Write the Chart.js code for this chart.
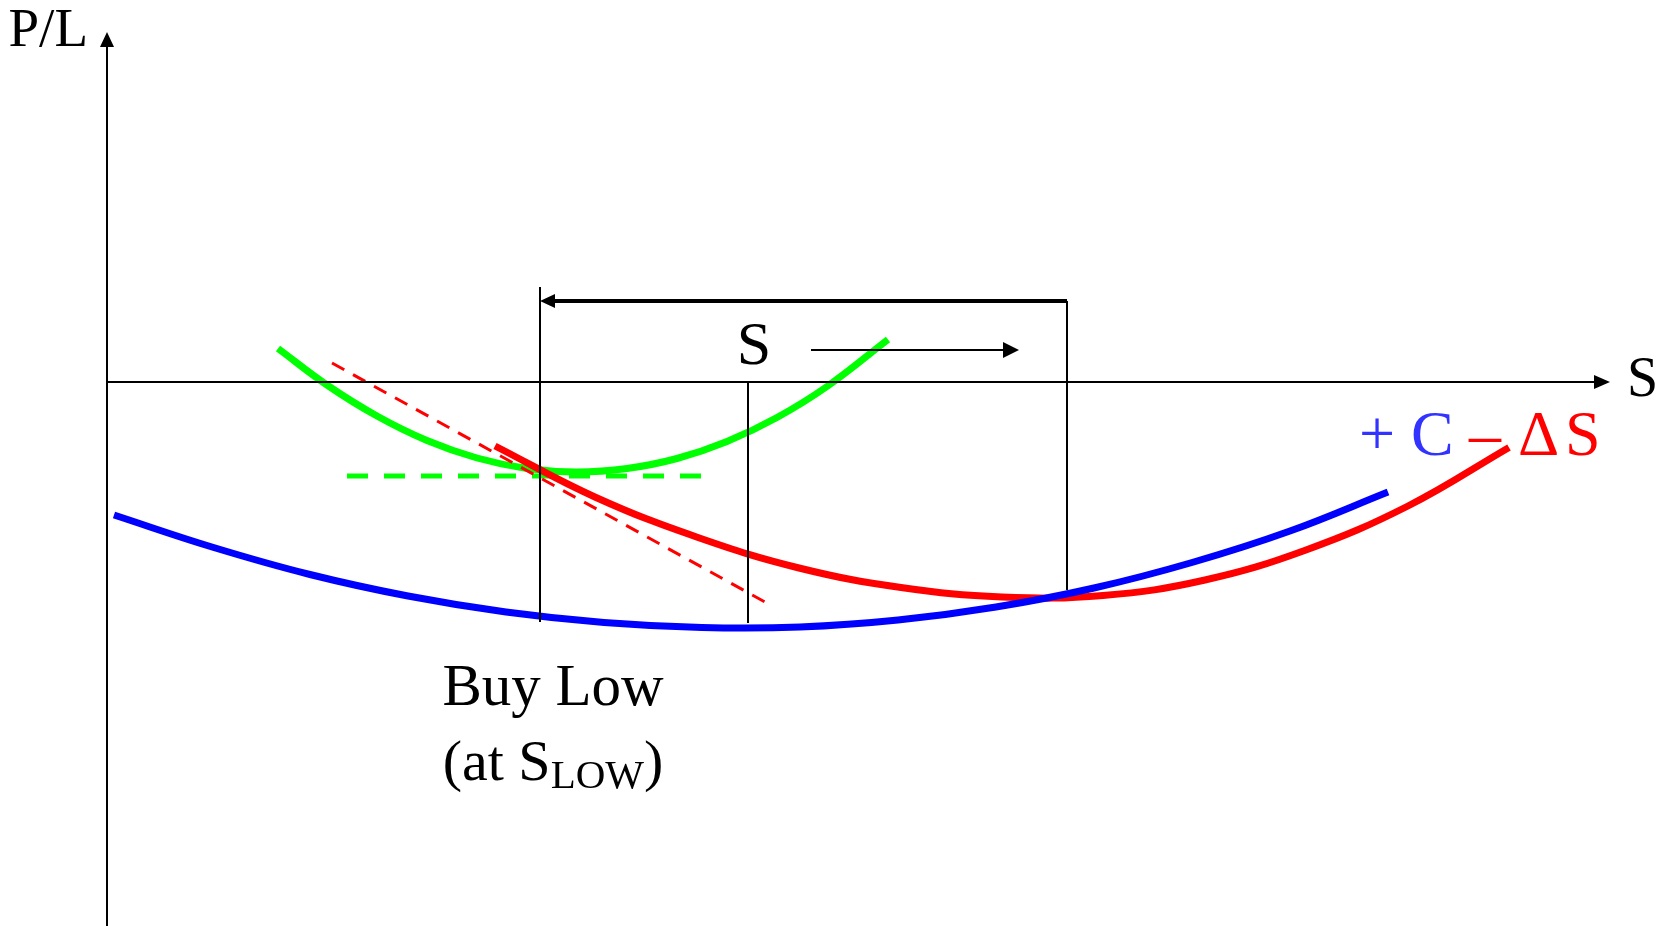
<!DOCTYPE html>
<html>
<head>
<meta charset="utf-8">
<title>Buy Low</title>
<script src="https://cdn.jsdelivr.net/npm/chart.js@4.4.1/dist/chart.umd.min.js"></script>
<style>
  html, body { margin: 0; padding: 0; background: #fff; }
  #wrap { width: 1668px; height: 926px; }
</style>
</head>
<body>
<div id="wrap"><canvas id="plChart" width="1668" height="926"></canvas></div>
<script>
// S on the horizontal axis, P/L on the vertical one (same units as the scales below)
const sRange = [-10.7, 156.1];
const plRange = [-54.4, 38.2];

// option value (blue)
const callS  = [0.7, 10.5, 20.3, 30.1, 39.9, 49.7, 59.5, 69.3, 79.1, 88.9, 98.7, 108.5, 118.3, 128.1];
const callPL = [-13.3, -16.5, -19.25, -21.4, -23.0, -24.05, -24.55, -24.5, -23.8, -22.5, -20.6, -18.05, -14.9, -11.0];

// option minus delta hedge (red)
const hedgeS  = [38.8, 48.9, 59.1, 69.2, 79.4, 89.5, 99.6, 109.8, 119.9, 130.1, 140.2];
const hedgePL = [-6.4, -11.55, -15.55, -18.6, -20.55, -21.5, -21.35, -19.8, -16.8, -12.4, -6.55];

// re-hedged position after buying at S low (green)
const rehedgeS  = [17.1, 22, 27, 32, 37, 42, 47, 52, 57, 62, 67, 72, 78.1];
const rehedgePL = [3.35, -0.3, -3.4, -5.85, -7.6, -8.65, -9.0, -8.65, -7.65, -5.95, -3.55, -0.45, 4.25];

// delta tangent (red dashed) and flat tangent (green dashed)
const tangentS  = [22.5, 65.8];
const tangentPL = [1.9, -22.0];
const flatS  = [24.0, 59.8];
const flatPL = [-9.4, -9.4];

// marker lines
const sLow = 43.3, sMid = 64.1, sHigh = 96.0;
const markerBottom = [-24.0, -24.1, -20.8];
const bracketPL = 8.1;
const moveArrowS = [70.4, 91.2];
const moveArrowPL = 3.2;
const axisTipS = 150.3;
const axisTipPL = 35.0;

const pts = (xs, ys) => xs.map((x, i) => ({ x: x, y: ys[i] }));

function seg(data, color, width, dash) {
    return {
        data: data,
        showLine: true,
        borderColor: color,
        borderWidth: width,
        borderDash: dash || [],
        pointRadius: 0,
        fill: false,
        tension: 0
    };
}

function curve(xs, ys, color) {
    return {
        data: pts(xs, ys),
        showLine: true,
        borderColor: color,
        borderWidth: 7,
        pointRadius: 0,
        fill: false,
        tension: 0.4,
        borderCapStyle: 'butt'
    };
}

function arrowHead(ctx, x, y, dx, dy, len, half) {
    ctx.beginPath();
    ctx.moveTo(x, y);
    ctx.lineTo(x - dx * len - dy * half, y - dy * len + dx * half);
    ctx.lineTo(x - dx * len + dy * half, y - dy * len - dx * half);
    ctx.closePath();
    ctx.fill();
}

const serif = '"Liberation Serif", "Times New Roman", serif';

const overlay = {
    id: 'overlay',
    afterDatasetsDraw(chart) {
        const ctx = chart.ctx;
        const xs = chart.scales.x, ys = chart.scales.y;
        const px = v => xs.getPixelForValue(v);
        const py = v => ys.getPixelForValue(v);
        ctx.save();
        ctx.fillStyle = '#000';
        // axis arrows
        arrowHead(ctx, px(axisTipS), py(0), 1, 0, 16, 7);
        arrowHead(ctx, px(0), py(axisTipPL), 0, -1, 15, 7);
        // bracket arrow back to S low, small arrow showing S moving up
        arrowHead(ctx, px(sLow), py(bracketPL), -1, 0, 15, 7);
        arrowHead(ctx, px(moveArrowS[1]), py(moveArrowPL), 1, 0, 16, 8);

        ctx.textBaseline = 'alphabetic';
        ctx.font = '55px ' + serif;
        ctx.textAlign = 'right';
        ctx.fillText('P/L', px(0) - 19, py(33.6));

        ctx.textAlign = 'left';
        ctx.font = '56px ' + serif;
        ctx.fillText('S', px(152.0), py(-1.4));

        ctx.font = '62px ' + serif;
        ctx.textAlign = 'center';
        ctx.fillText('S', px(64.7), py(1.8));

        // "+ C − ΔS" label by the curves
        ctx.textAlign = 'left';
        ctx.font = '64px ' + serif;
        const base = py(-7.3);
        ctx.fillStyle = '#3333ff';
        ctx.fillText('+', px(125.2), base);
        ctx.fillText('C', px(130.4), base);
        ctx.fillStyle = '#ff0000';
        ctx.fillText('\u2013', px(136.2), base);
        ctx.fillText('\u0394', px(141.1), base);
        ctx.fillText('S', px(145.8), base);

        // Buy Low caption
        ctx.fillStyle = '#000';
        ctx.textAlign = 'center';
        ctx.font = '59px ' + serif;
        ctx.fillText('Buy Low', px(44.6), py(-32.3));

        const big = '58px ' + serif;
        const small = '41px ' + serif;
        ctx.textAlign = 'left';
        ctx.font = big;
        const w1 = ctx.measureText('(at S').width;
        const w3 = ctx.measureText(')').width;
        ctx.font = small;
        const w2 = ctx.measureText('LOW').width;
        let x0 = px(44.6) - (w1 + w2 + w3) / 2;
        const b2 = py(-39.8);
        ctx.font = big;
        ctx.fillText('(at S', x0, b2);
        ctx.font = small;
        ctx.fillText('LOW', x0 + w1, b2 + 8);
        ctx.font = big;
        ctx.fillText(')', x0 + w1 + w2, b2);
        ctx.restore();
    }
};

new Chart(document.getElementById('plChart'), {
    type: 'scatter',
    data: {
        datasets: [
            seg([{ x: 0, y: 0 }, { x: axisTipS - 1, y: 0 }], '#000', 2),
            seg([{ x: 0, y: plRange[0] }, { x: 0, y: axisTipPL - 1 }], '#000', 2),
            seg([{ x: sLow, y: bracketPL + 1.4 }, { x: sLow, y: markerBottom[0] }], '#000', 2),
            seg([{ x: sMid, y: 0 }, { x: sMid, y: markerBottom[1] }], '#000', 2),
            seg([{ x: sHigh, y: bracketPL }, { x: sHigh, y: markerBottom[2] }], '#000', 2),
            seg([{ x: sLow + 1, y: bracketPL }, { x: sHigh, y: bracketPL }], '#000', 4),
            seg([{ x: moveArrowS[0], y: moveArrowPL }, { x: moveArrowS[1] - 1, y: moveArrowPL }], '#000', 2),
            curve(callS, callPL, '#0000ff'),
            curve(hedgeS, hedgePL, '#ff0000'),
            seg(pts(tangentS, tangentPL), '#ff0000', 3, [14, 10]),
            curve(rehedgeS, rehedgePL, '#00ff00'),
            seg(pts(flatS, flatPL), '#00ff00', 5, [21, 16])
        ]
    },
    options: {
        responsive: false,
        animation: false,
        devicePixelRatio: 1,
        layout: { padding: 0 },
        plugins: {
            legend: { display: false },
            tooltip: { enabled: false }
        },
        scales: {
            x: { type: 'linear', min: sRange[0], max: sRange[1], display: false },
            y: { type: 'linear', min: plRange[0], max: plRange[1], display: false }
        }
    },
    plugins: [overlay]
});
</script>
</body>
</html>
